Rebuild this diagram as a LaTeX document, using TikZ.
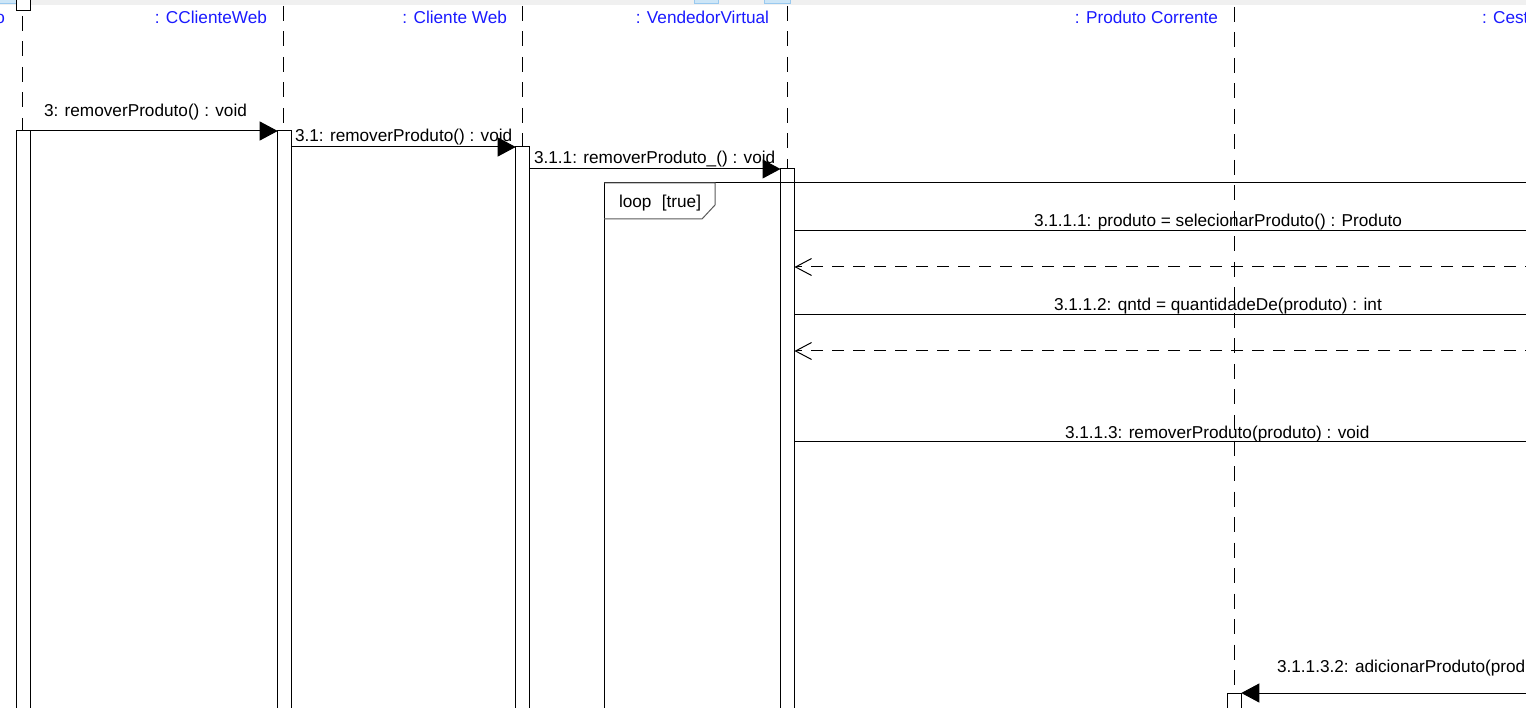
\documentclass[tikz,border=0pt]{standalone}
\usepackage{fontspec}
\setmainfont{Liberation Sans}
\usetikzlibrary{arrows.meta}
\definecolor{bandgray}{HTML}{F0F0F0}
\definecolor{tabfill}{HTML}{CDE6F7}
\definecolor{tabline}{HTML}{99C9EF}
\definecolor{namecol}{HTML}{1A1AFF}
\definecolor{framegray}{HTML}{5A5A5A}
\begin{document}
\begin{tikzpicture}[x=1pt,y=-1pt,
  every node/.style={font=\fontsize{17.2}{20}\selectfont, inner sep=0pt, outer sep=0pt},
  namelbl/.style={text=namecol},
  msglbl/.style={text=black},
  lifeline/.style={line width=1pt, dash pattern=on 15pt off 10.5pt},
  actbox/.style={draw, fill=white, line width=1pt, minimum width=14pt, minimum height=640pt, anchor=north},
  syncmsg/.style={line width=1pt, -{Triangle[length=18pt,width=19pt]}},
  plainmsg/.style={line width=1pt},
  retmsg/.style={line width=1pt, dash pattern=on 12pt off 9pt, -{Straight Barb[length=16pt,width=17pt,line width=1pt]}},
  tabbox/.style={draw=tabline, fill=tabfill, line width=0.8pt}
]
\useasboundingbox (0,0) rectangle (1526,708);
\clip (0,0) rectangle (1526,708);
\fill[white] (0,0) rectangle (1526,708);
% top band
\fill[bandgray] (0,0) rectangle (1526,5.5);
\draw[tabbox] (-2,-2) rectangle (27,3);
\draw[tabbox] (694,-2) rectangle (718,3);
\draw[tabbox] (764,-2) rectangle (790,3);
\draw[line width=1pt, fill=white] (16,-2) -- (16,11) -- (30,11) -- (30,-2);

% lifeline heads
\coordinate (h0) at (22.3,16);
\coordinate (h1) at (283.3,6);
\coordinate (h2) at (522,6);
\coordinate (h3) at (787,6);
\coordinate (h4) at (1234,7);
\coordinate (cesta) at (1600,0);

% activations
\node[actbox] (a0) at (23,131) {};
\node[actbox] (a1) at (284.7,131) {};
\node[actbox] (a2) at (522.7,147) {};
\node[actbox] (a3) at (787.5,169) {};
\node[actbox] (a4) at (1234.3,693) {};

% lifelines
\draw[lifeline] (h0) -- (h0 |- a0.north);
\draw[lifeline] (h1) -- (h1 |- a1.north);
\draw[lifeline] (h2) -- (h2 |- a2.north);
\draw[lifeline] (h3) -- (h3 |- a3.north);
\draw[lifeline] (h4) -- (h4 |- a4.north);
\node[actbox] (a4b) at (1234.3,693) {};

% object names
\node[namelbl, anchor=base east] (n0) at (5,23.3) {o};
\node[namelbl, anchor=base east] (n1) at (267,23.3) {: CClienteWeb};
\node[namelbl, anchor=base east] (n2) at (507,23.3) {: Cliente Web};
\node[namelbl, anchor=base east] (n3) at (769,23.3) {: VendedorVirtual};
\node[namelbl, anchor=base east] (n4) at (1218,23.3) {: Produto Corrente};
\node[namelbl, anchor=base west] (n5) at (1482,23.3) {: Cest};

% loop frame
\coordinate (fr) at (604,183);
\draw[line width=1pt] (fr |- 0,740) -- (fr) -- (cesta |- fr);
\draw[draw=framegray, line width=1pt] (604,183) -- (715,183) -- (715,205) -- (702,219) -- (604,219);
\node[msglbl, anchor=base west] (looplbl) at (619,207.3) {loop\hspace{0.6em}[true]};

% messages
\coordinate (y1) at (0,231);
\coordinate (y1r) at (0,267);
\coordinate (y2) at (0,315);
\coordinate (y2r) at (0,351);
\coordinate (y3) at (0,441.5);
\coordinate (y4) at (0,693);

\draw[syncmsg] (a0.north east) -- (a1.north west);
\draw[syncmsg] (a1.east |- a2.north) -- (a2.north west);
\draw[syncmsg] (a2.east |- a3.north) -- (a3.north west);
\draw[plainmsg] (a3.east |- y1) -- (cesta |- y1);
\draw[retmsg] (cesta |- y1r) -- (a3.east |- y1r);
\draw[plainmsg] (a3.east |- y2) -- (cesta |- y2);
\draw[retmsg] (cesta |- y2r) -- (a3.east |- y2r);
\draw[plainmsg] (a3.east |- y3) -- (cesta |- y3);
\draw[syncmsg] (cesta |- y4) -- (a4b.north east);

% message labels
\node[msglbl, anchor=base west] (l3) at (44,116.7) {3: removerProduto() : void};
\node[msglbl, anchor=base west] (l31) at (295,141.7) {3.1: removerProduto() : void};
\node[msglbl, anchor=base west] (l311) at (534,164) {3.1.1: removerProduto\_() : void};
\node[msglbl, anchor=base west] (l3111) at (1034,226.5) {3.1.1.1: produto = selecionarProduto() : Produto};
\node[msglbl, anchor=base west] (l3112) at (1054,310.7) {3.1.1.2: qntd = quantidadeDe(produto) : int};
\node[msglbl, anchor=base west] (l3113) at (1065,438.3) {3.1.1.3: removerProduto(produto) : void};
\node[msglbl, anchor=base west] (l31132) at (1277,672.7) {3.1.1.3.2: adicionarProduto(prod};
\end{tikzpicture}
\end{document}
